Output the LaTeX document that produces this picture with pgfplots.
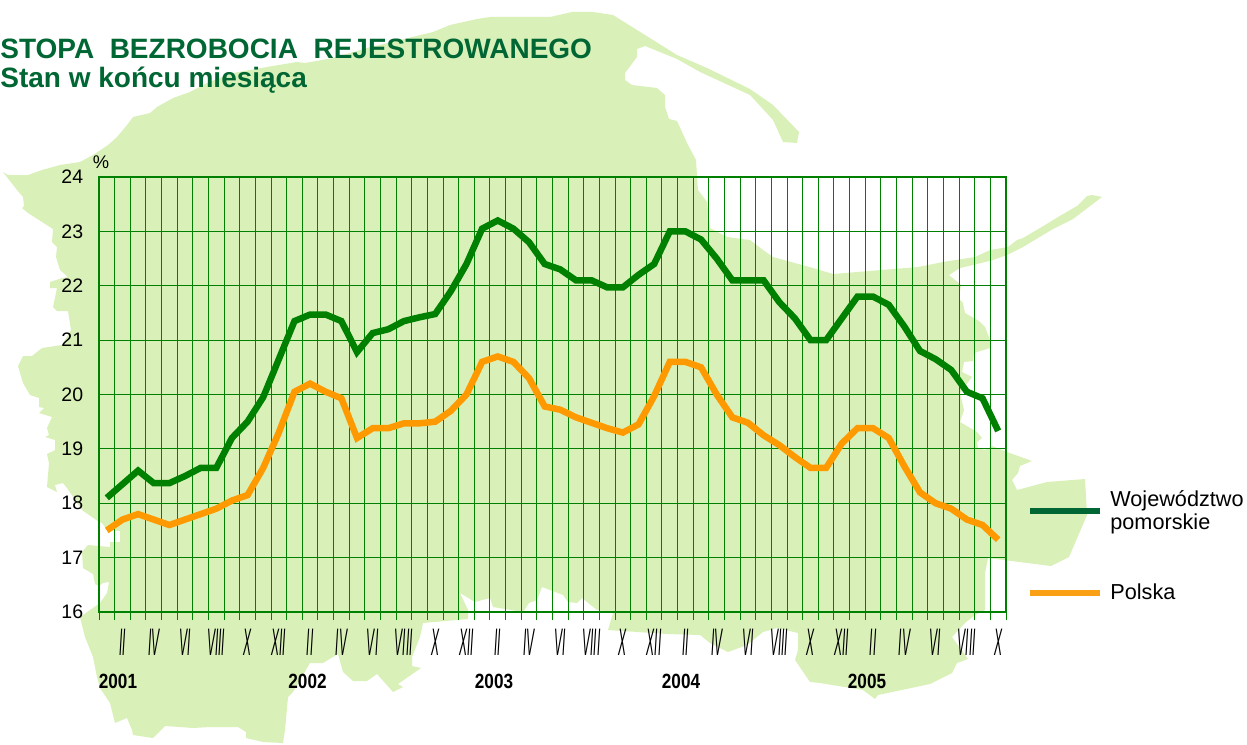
\documentclass[border=0pt]{standalone}
\usepackage{fontspec}
\setmainfont{Liberation Sans}
\usepackage{pgfplots}
\pgfplotsset{compat=1.18}
\usepackage{pgfplotstable}
\usepackage{graphicx}

\definecolor{mapfill}{RGB}{217,241,184}
\definecolor{plotgreen}{RGB}{0,128,0}
\definecolor{darkgreen}{RGB}{0,102,51}
\definecolor{plotorange}{RGB}{255,153,0}
\definecolor{keyorange}{RGB}{250,160,20}

% month index, registered unemployment rate at end of month
\pgfplotstableread{
m pom pl
1 18.1 17.5
2 18.35 17.7
3 18.6 17.8
4 18.37 17.7
5 18.37 17.6
6 18.5 17.7
7 18.65 17.8
8 18.65 17.9
9 19.2 18.05
10 19.5 18.15
11 19.95 18.65
12 20.65 19.3
13 21.35 20.05
14 21.47 20.2
15 21.47 20.05
16 21.35 19.93
17 20.78 19.2
18 21.13 19.38
19 21.2 19.38
20 21.35 19.47
21 21.42 19.47
22 21.48 19.5
23 21.9 19.7
24 22.4 20.0
25 23.05 20.6
26 23.2 20.7
27 23.05 20.6
28 22.8 20.3
29 22.4 19.78
30 22.3 19.72
31 22.1 19.58
32 22.1 19.48
33 21.97 19.38
34 21.97 19.3
35 22.2 19.45
36 22.4 19.97
37 23.0 20.6
38 23.0 20.6
39 22.85 20.5
40 22.5 20.0
41 22.1 19.58
42 22.1 19.48
43 22.1 19.25
44 21.7 19.07
45 21.4 18.85
46 21.0 18.65
47 21.0 18.65
48 21.4 19.1
49 21.8 19.38
50 21.8 19.38
51 21.65 19.2
52 21.25 18.68
53 20.8 18.2
54 20.65 18.0
55 20.45 17.9
56 20.05 17.7
57 19.93 17.6
58 19.33 17.33
}\rates

\newcommand{\rz}[1]{\scalebox{.72}[2.3]{\itshape #1}}

\begin{document}
\begin{tikzpicture}
\useasboundingbox (0,0) rectangle (748.2pt,-446.4pt);

\begin{scope}[x=0.6pt,y=-0.6pt]
% map of the region behind the chart
\fill[mapfill] (3,172) -- (8,175) -- (28,175) -- (42,170) -- (60,165) -- (80,162) -- (93,155)
 -- (108,145) -- (117,137) -- (127,125) -- (133,117) -- (150,113) -- (157,107) -- (173,98)
 -- (190,92) -- (207,83) -- (233,73) -- (267,67) -- (297,62) -- (305,63) -- (333,58)
 -- (367,48) -- (400,40) -- (433,32) -- (450,25) -- (477,19) -- (490,17) -- (550,17)
 -- (572,12) -- (593,12) -- (613,15) -- (677,55) -- (707,68) -- (750,89) -- (773,105)
 -- (799,132) -- (797,143) -- (783,142) -- (773,120) -- (750,95) -- (700,72) -- (677,59)
 -- (645,46) -- (637,49) -- (637,57) -- (625,73) -- (625,80) -- (632,85) -- (657,88)
 -- (665,95) -- (665,107) -- (669,119) -- (677,121) -- (687,143) -- (696,160) -- (697,177)
 -- (698,190) -- (707,202) -- (710,228) -- (727,237) -- (750,240) -- (763,250) -- (773,257)
 -- (813,268) -- (833,274) -- (918,267) -- (943,262) -- (975,257) -- (990,250) -- (1008,247)
 -- (1017,240) -- (1023,238) -- (1050,222) -- (1058,217) -- (1077,206) -- (1087,196)
 -- (1092,195) -- (1102,197) -- (1073,219) -- (1053,229) -- (1023,247) -- (1007,255)
 -- (993,260) -- (973,265) -- (960,268) -- (949,275) -- (961,285) -- (959,299) -- (963,303)
 -- (965,313) -- (979,321) -- (985,327) -- (990,340) -- (990,348) -- (974,353) -- (973,361)
 -- (964,362) -- (962,372) -- (972,377) -- (960,393) -- (964,410) -- (960,422) -- (977,432)
 -- (982,438) -- (977,442) -- (978,448) -- (985,450) -- (992,446) -- (1007,452) -- (1032,461)
 -- (1020,466) -- (1018,473) -- (1012,480) -- (1017,490) -- (1047,482) -- (1085,479)
 -- (1087,515) -- (1069,557) -- (1051,566) -- (988,558) -- (985,573) -- (985,610) -- (975,615)
 -- (965,623) -- (952,637) -- (968,659) -- (957,663) -- (952,673) -- (930,684) -- (878,695)
 -- (875,699) -- (863,690) -- (820,683) -- (810,682) -- (795,660) -- (798,650) -- (798,633)
 -- (777,628) -- (763,632) -- (747,645) -- (728,652) -- (710,643) -- (700,635) -- (667,634)
 -- (608,630) -- (613,613) -- (597,610) -- (582,598) -- (577,603) -- (568,602) -- (563,595)
 -- (542,587) -- (537,600) -- (529,603) -- (523,612) -- (493,607) -- (490,598) -- (475,602)
 -- (460,593) -- (468,610) -- (468,619) -- (423,623) -- (420,637) -- (412,657) -- (412,666)
 -- (421,668) -- (398,684) -- (403,687) -- (393,692) -- (377,674) -- (367,681) -- (353,681)
 -- (343,672) -- (338,654) -- (323,663) -- (310,663) -- (293,692) -- (288,697) -- (285,730)
 -- (283,743) -- (263,742) -- (246,738) -- (246,732) -- (238,727) -- (210,727) -- (193,728)
 -- (180,727) -- (165,726) -- (153,738) -- (133,735) -- (132,730) -- (127,718) -- (115,723)
 -- (110,703) -- (100,688) -- (97,677) -- (93,657) -- (85,637) -- (80,617) -- (100,603)
 -- (107,593) -- (109,582) -- (103,583) -- (99,586) -- (95,584) -- (93,574) -- (83,568)
 -- (82,552) -- (88,545) -- (110,547) -- (110,542) -- (120,542) -- (120,531) -- (107,530)
 -- (102,523) -- (99,522) -- (82,510) -- (67,488) -- (63,483) -- (55,485) -- (57,492)
 -- (47,487) -- (49,463) -- (47,454) -- (55,450) -- (55,440) -- (45,437) -- (49,435)
 -- (47,428) -- (52,417) -- (39,413) -- (44,408) -- (39,407) -- (39,398) -- (30,395)
 -- (23,383) -- (18,366) -- (23,356) -- (32,356) -- (42,348) -- (62,345) -- (71,330)
 -- (68,311) -- (57,311) -- (53,307) -- (57,288) -- (50,288) -- (50,282) -- (62,278)
 -- (68,277) -- (60,270) -- (56,257) -- (57,247) -- (52,242) -- (53,229) -- (28,213)
 -- (22,208) -- (24,206) -- (23,197) -- (17,190) -- cycle;

% title and other free text
\node[anchor=base west,inner sep=0pt,text=darkgreen,font=\fontsize{16.8}{18}\selectfont\bfseries] at (0,59) {STOPA \ BEZROBOCIA \ REJESTROWANEGO};
\node[anchor=base west,inner sep=0pt,text=darkgreen,font=\fontsize{16.8}{18}\selectfont\bfseries] at (0,88) {Stan w końcu miesiąca};
\node[anchor=base,inner sep=0pt,font=\fontsize{11}{12}\selectfont] at (101,168) {\%};
\foreach \x/\y in {118/2001,307.5/2002,494/2003,681/2004,867/2005}
  \node[anchor=base,inner sep=0pt,font=\fontsize{10.3}{12}\selectfont\bfseries] at (\x,688) {\scalebox{1}[1.2]{\y}};
\end{scope}

\begin{axis}[
    at={(59.4pt,-367.2pt)},
    anchor=south west,
    scale only axis,
    width=544.2pt,
    height=261pt,
    xmin=0.5, xmax=58.5,
    ymin=16, ymax=24,
    ytick={16,...,24},
    xtick={2,4,...,58},
    xticklabels={\rz{II},\rz{IV},\rz{VI},\rz{VIII},\rz{X},\rz{XII},
      \rz{II},\rz{IV},\rz{VI},\rz{VIII},\rz{X},\rz{XII},
      \rz{II},\rz{IV},\rz{VI},\rz{VIII},\rz{X},\rz{XII},
      \rz{II},\rz{IV},\rz{VI},\rz{VIII},\rz{X},\rz{XII},
      \rz{II},\rz{IV},\rz{VI},\rz{VIII},\rz{X}},
    minor xtick={0.5,1.5,...,58.5},
    xminorgrids=true,
    ymajorgrids=true,
    tick align=outside,
    tick pos=left,
    major tick length=0pt,
    minor tick length=5pt,
    every tick/.style={plotgreen,line width=0.6pt},
    minor tick style={plotgreen,line width=0.6pt},
    grid style={plotgreen,line width=0.6pt},
    minor grid style={plotgreen,line width=0.6pt},
    axis line style={plotgreen,line width=1pt},
    axis on top=false,
    clip=false,
    /pgf/number format/assume math mode=true,
    yticklabel style={font=\fontsize{11.7}{13}\selectfont,xshift=-6pt},
    xticklabel style={font=\fontsize{10}{12}\selectfont,yshift=-6.5pt},
    legend image code/.code={\draw[#1] (0pt,0pt) -- (42pt,0pt);\path (46.2pt,0pt);},
    legend cell align=left,
    legend style={
      at={(1.0232,0.151)},
      anchor=west,
      draw=none,
      fill=none,
      inner sep=0pt,
      row sep=31pt,
      nodes={inner sep=0pt},
      font=\fontsize{13}{14}\selectfont,
      cells={align=left},
    },
]
\addplot[forget plot,plotgreen,line width=3.9pt,line join=miter] table[x=m,y=pom] {\rates};
\addplot[forget plot,plotorange,line width=3.9pt,line join=miter] table[x=m,y=pl] {\rates};
\addlegendimage{darkgreen,line width=3.6pt}
\addlegendentry{Województwo\\pomorskie}
\addlegendimage{keyorange,line width=3.6pt}
\addlegendentry{Polska}
\end{axis}
\end{tikzpicture}
\end{document}
